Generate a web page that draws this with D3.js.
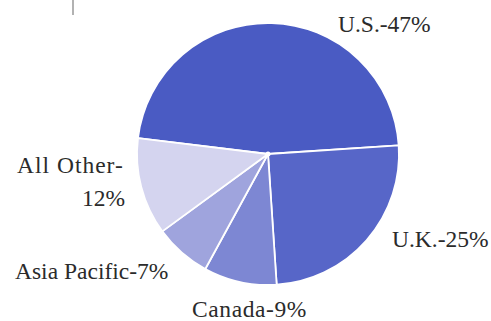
<!DOCTYPE html>
<html>
<head>
<meta charset="utf-8">
<script src="https://cdn.jsdelivr.net/npm/d3@7"></script>
</head>
<body style="margin:0">
<svg id="chart" width="491" height="321"></svg>
<script>
// sales by region, percent
const regions = ["U.S.", "U.K.", "Canada", "Asia Pacific", "All Other"];
const shares = [47, 25, 9, 7, 12];
const colors = ["#4a5bc3", "#5766c8", "#7d87d3", "#9fa4dd", "#d4d4ef"];

const width = 491, height = 321;
const cx = 268, cy = 154, radius = 131;

const svg = d3.select("#chart");

// little tick mark at the top left
svg.append("line")
  .attr("x1", 73).attr("x2", 73)
  .attr("y1", 0).attr("y2", 15)
  .attr("stroke", "#999").attr("stroke-width", 1.5);

const data = regions.map((r, i) => ({ region: r, value: shares[i], color: colors[i] }));

const start = -83 * Math.PI / 180;
const pie = d3.pie()
  .value(d => d.value)
  .sort(null)
  .startAngle(start)
  .endAngle(start + 2 * Math.PI);

const arc = d3.arc().innerRadius(0).outerRadius(radius);

const g = svg.append("g").attr("transform", `translate(${cx},${cy})`);

g.selectAll("path")
  .data(pie(data))
  .enter()
  .append("path")
  .attr("d", arc)
  .attr("fill", d => d.data.color)
  .attr("stroke", "#fff")
  .attr("stroke-width", 1.8)
  .attr("stroke-linejoin", "round");

g.append("circle").attr("r", 2.5).attr("fill", "#fff");

// label placement (baseline points), picked by hand to sit like the original
const labelPos = {
  "U.S.": { at: [[338, 32]], spacing: 0 },
  "U.K.": { at: [[392, 247]], spacing: 0 },
  "Canada": { at: [[192, 317]], spacing: 0.6 },
  "Asia Pacific": { at: [[15, 279]], spacing: 0 },
  "All Other": { at: [[17, 173], [125, 206]], spacing: 1 }
};

function label(x, y, txt, anchor, spacing) {
  svg.append("text")
    .attr("x", x).attr("y", y)
    .attr("text-anchor", anchor)
    .style("font-family", '"Liberation Serif"')
    .style("font-size", "23.5px")
    .style("letter-spacing", spacing + "px")
    .style("fill", "#2b2b2b")
    .text(txt);
}

data.forEach(d => {
  const p = labelPos[d.region];
  if (p.at.length === 1) {
    label(p.at[0][0], p.at[0][1], `${d.region}-${d.value}%`, "start", p.spacing);
  } else {
    label(p.at[0][0], p.at[0][1], `${d.region}-`, "start", p.spacing);
    label(p.at[1][0], p.at[1][1], `${d.value}%`, "end", 0);
  }
});
</script>
</body>
</html>
